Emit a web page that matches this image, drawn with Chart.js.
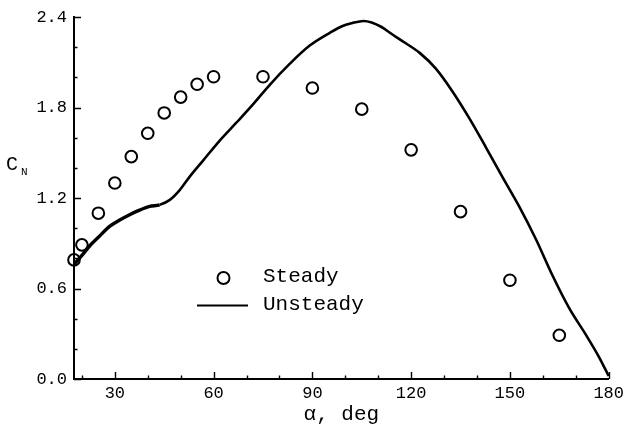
<!DOCTYPE html>
<html>
<head>
<meta charset="utf-8">
<script src="https://cdn.jsdelivr.net/npm/chart.js@4/dist/chart.umd.min.js"></script>
<style>
  html, body { margin: 0; padding: 0; background: #fff; }
  #wrap { width: 628px; height: 429px; }
</style>
</head>
<body>
<div id="wrap"><canvas id="c" width="628" height="429"></canvas></div>
<script>
// Steady normal-force coefficient, one value per test angle
const steadyAlpha = [17.6, 20, 25, 30, 35, 40, 45, 50, 55, 60, 75, 90, 105, 120, 135, 150, 165];
const steadyCN    = [0.79, 0.89, 1.10, 1.30, 1.475, 1.63, 1.765, 1.87, 1.955, 2.005, 2.005, 1.93, 1.79, 1.52, 1.11, 0.655, 0.29];

// Unsteady normal-force coefficient along the sweep
const unsteadyAlpha = [17.6, 20, 22.4, 25, 28.5, 31.5, 34.5, 37.5, 40.6, 43.6, 46.7, 49.7, 52.7, 56.8,
  61.8, 66.9, 71.9, 77, 83.1, 89.1, 95.2, 99, 102, 105.5, 108, 111, 114, 118, 122.5, 127.5, 132.6,
  137.6, 142.7, 147.7, 152.8, 157.9, 162.9, 168, 173, 177.1, 180];
const unsteadyCN = [0.76, 0.82, 0.884, 0.94, 1.014, 1.055, 1.09, 1.12, 1.145, 1.155, 1.188, 1.253, 1.341, 1.449,
  1.58, 1.70, 1.82, 1.95, 2.09, 2.21, 2.295, 2.34, 2.36, 2.375, 2.365, 2.335, 2.29, 2.232, 2.165, 2.059, 1.906,
  1.732, 1.537, 1.341, 1.145, 0.927, 0.688, 0.47, 0.296, 0.144, 0.02];

// Axis ticks: every tick gets a mark, labelled ones get a longer mark
const xTicks = [20, 30, 40, 50, 60, 70, 80, 90, 100, 110, 120, 130, 140, 150, 160, 170, 180];
const xLabelled = [30, 60, 90, 120, 150, 180];
const yTicks = [0, 0.2, 0.4, 0.6, 0.8, 1.0, 1.2, 1.4, 1.6, 1.8, 2.0, 2.2, 2.4];
const yLabelled = [0, 0.6, 1.2, 1.8, 2.4];

const seriesNames = ['Steady', 'Unsteady'];

const MONO = "'Liberation Mono', 'Courier New', monospace";

const isLabelled = (list, v) => list.some(t => Math.abs(t - v) < 1e-6);

const innerTicks = {
  id: 'innerTicks',
  afterDraw(chart) {
    const { ctx, chartArea, scales: { x, y } } = chart;
    ctx.save();
    ctx.strokeStyle = '#000';
    ctx.lineWidth = 1.4;
    ctx.beginPath();
    xTicks.forEach(v => {
      const px = Math.round(x.getPixelForValue(v)) + 0.5;
      const len = isLabelled(xLabelled, v) ? 7 : 3.5;
      ctx.moveTo(px, chartArea.bottom);
      ctx.lineTo(px, chartArea.bottom - len);
    });
    yTicks.forEach(v => {
      const py = Math.round(y.getPixelForValue(v)) + 0.5;
      const len = isLabelled(yLabelled, v) ? 7 : 3.5;
      ctx.moveTo(chartArea.left, py);
      ctx.lineTo(chartArea.left + len, py);
    });
    ctx.stroke();

    // y-axis title C with subscript N
    ctx.fillStyle = '#000';
    ctx.textBaseline = 'alphabetic';
    ctx.textAlign = 'left';
    ctx.font = '20px ' + MONO;
    ctx.fillText('C', 6, 170);
    ctx.font = '11px ' + MONO;
    ctx.fillText('N', 21, 175);

    // legend
    ctx.lineWidth = 2;
    ctx.beginPath();
    ctx.arc(223.5, 278, 6, 0, Math.PI * 2);
    ctx.stroke();
    ctx.beginPath();
    ctx.moveTo(197, 305.5);
    ctx.lineTo(248, 305.5);
    ctx.stroke();
    ctx.font = '21px ' + MONO;
    ctx.fillText(seriesNames[0], 263, 282);
    ctx.fillText(seriesNames[1], 263, 310);
    ctx.restore();
  }
};

new Chart(document.getElementById('c'), {
  type: 'scatter',
  data: {
    datasets: [
      {
        label: seriesNames[1],
        data: unsteadyAlpha.map((a, i) => ({ x: a, y: unsteadyCN[i] })),
        showLine: true,
        borderColor: '#000',
        borderWidth: 2.6,
        segment: {
          // the low-angle part of the trace is noisier, so it reads heavier
          borderWidth: ctx => ctx.p1.parsed.x <= 46 ? 3.4 : 2.6
        },
        pointRadius: 0,
        cubicInterpolationMode: 'monotone',
        clip: false,
        order: 2
      },
      {
        label: seriesNames[0],
        data: steadyAlpha.map((a, i) => ({ x: a, y: steadyCN[i] })),
        showLine: false,
        pointRadius: 5.8,
        pointBorderWidth: 2,
        pointBorderColor: '#000',
        pointBackgroundColor: 'rgba(0,0,0,0)',
        clip: false,
        order: 1
      }
    ]
  },
  options: {
    responsive: false,
    animation: false,
    layout: { padding: { top: 11, right: 18, left: 0, bottom: 0 } },
    plugins: { legend: { display: false }, tooltip: { enabled: false } },
    scales: {
      x: {
        type: 'linear',
        min: 17.6,
        max: 180,
        afterBuildTicks: s => { s.ticks = xTicks.map(v => ({ value: v })); },
        afterFit: s => { s.height = 50; },
        grid: { display: false, drawTicks: false },
        border: { display: true, color: '#000', width: 2 },
        ticks: {
          autoSkip: false,
          maxRotation: 0,
          padding: 4,
          color: '#000',
          font: { family: MONO, size: 17 },
          callback: v => isLabelled(xLabelled, v) ? String(v) : ''
        },
        title: {
          display: true,
          text: 'α, deg',
          color: '#000',
          font: { family: MONO, size: 21 },
          padding: { top: 0, bottom: 2 }
        }
      },
      y: {
        type: 'linear',
        min: 0,
        max: 2.4,
        afterBuildTicks: s => { s.ticks = yTicks.map(v => ({ value: v })); },
        afterFit: s => { s.width = 74; },
        grid: { display: false, drawTicks: false },
        border: { display: true, color: '#000', width: 2 },
        ticks: {
          autoSkip: false,
          padding: 7,
          color: '#000',
          font: { family: MONO, size: 17 },
          callback: v => isLabelled(yLabelled, v) ? v.toFixed(1) : ''
        }
      }
    }
  },
  plugins: [innerTicks]
});
</script>
</body>
</html>
